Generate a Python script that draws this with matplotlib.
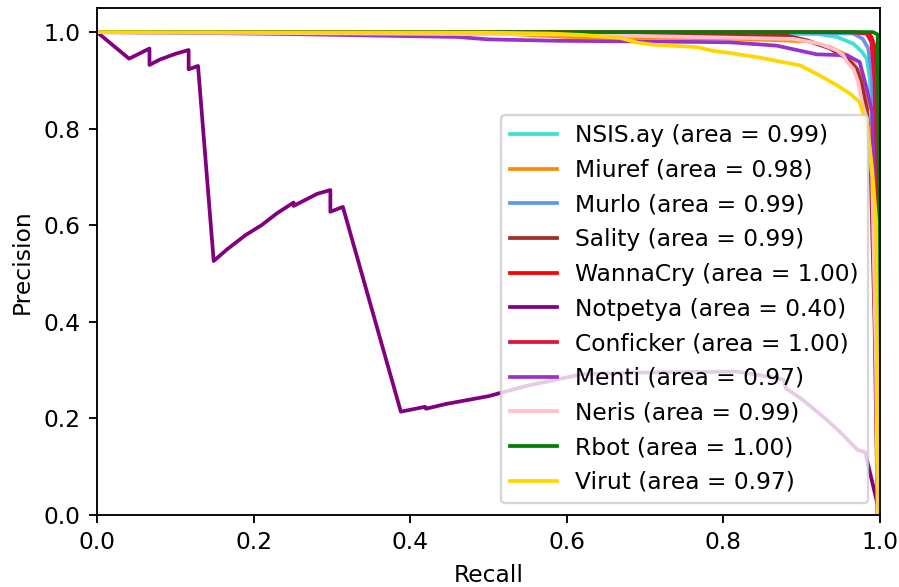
import matplotlib
matplotlib.use("Agg")
from matplotlib import pyplot as plt

names = ["NSIS.ay", "Miuref", "Murlo", "Sality", "WannaCry", "Notpetya",
         "Conficker", "Menti", "Neris", "Rbot", "Virut"]
areas = [0.99, 0.98, 0.99, 0.99, 1.00, 0.40, 1.00, 0.97, 0.99, 1.00, 0.97]
colors = ["turquoise", "darkorange", "cornflowerblue", "brown", "red", "purple",
          "crimson", "darkorchid", "pink", "green", "gold"]

# recall / precision points for each class
recall = {
    "NSIS.ay": [0, 0.5, 0.75, 0.92, 0.945, 0.966, 0.977, 0.983, 0.987, 0.990, 0.993, 0.996, 0.998],
    "Miuref": [0, 0.50, 0.55, 0.6, 0.8, 0.907, 0.936, 0.958, 0.974, 0.983, 0.989, 0.994, 0.997],
    "Murlo": [0, 0.9, 0.966, 0.978, 0.985, 0.989, 0.993, 0.996, 0.998],
    "Sality": [0, 0.6, 0.88, 0.907, 0.936, 0.958, 0.970, 0.977, 0.983, 0.988, 0.993, 0.997],
    "WannaCry": [0, 0.97, 0.985, 0.989, 0.994, 0.996, 0.998, 0.999],
    "Notpetya": [0, 0.041, 0.067, 0.067, 0.08, 0.10, 0.117, 0.117, 0.129, 0.149, 0.166,
                 0.19, 0.21, 0.23, 0.251, 0.251, 0.281, 0.298, 0.298, 0.314, 0.388,
                 0.419, 0.42, 0.446, 0.50, 0.55, 0.621, 0.70, 0.817, 0.860, 0.877,
                 0.880, 0.90, 0.93, 0.95, 0.971, 0.981, 1.0],
    "Conficker": [0, 0.96, 0.983, 0.989, 0.993, 0.996, 0.998],
    "Menti": [0, 0.1, 0.246, 0.35, 0.46, 0.5, 0.59, 0.677, 0.808, 0.868, 0.919, 0.958,
              0.974, 0.983, 0.990, 0.993, 0.995, 0.997],
    "Neris": [0, 0.6, 0.889, 0.923, 0.945, 0.953, 0.958, 0.966, 0.972, 0.977, 0.983,
              0.990, 0.995, 0.997],
    "Rbot": [0, 0.991, 0.997, 0.999, 1.0],
    "Virut": [0, 0.50, 0.58, 0.621, 0.668, 0.691, 0.710, 0.766, 0.787, 0.808, 0.847, 0.898,
              0.923, 0.945, 0.962, 0.974, 0.978, 0.983, 0.990, 0.995, 0.996, 0.998],
}
precision = {
    "NSIS.ay": [1.0, 0.999, 0.997, 0.996, 0.990, 0.976, 0.959, 0.945, 0.903, 0.80, 0.60, 0.2, 0.0],
    "Miuref": [1.0, 0.999, 0.994, 0.990, 0.987, 0.981, 0.969, 0.952, 0.917, 0.855, 0.749, 0.4, 0.0],
    "Murlo": [1.0, 0.999, 0.997, 0.986, 0.966, 0.917, 0.80, 0.5, 0.0],
    "Sality": [1.0, 0.998, 0.993, 0.983, 0.966, 0.945, 0.924, 0.890, 0.841, 0.72, 0.4, 0.0],
    "WannaCry": [1.0, 1.0, 0.998, 0.990, 0.966, 0.85, 0.4, 0.0],
    "Notpetya": [1.0, 0.945, 0.966, 0.932, 0.943, 0.955, 0.963, 0.923, 0.930, 0.526, 0.550,
                 0.58, 0.60, 0.625, 0.647, 0.640, 0.665, 0.673, 0.628, 0.638, 0.214,
                 0.224, 0.220, 0.230, 0.246, 0.268, 0.292, 0.295, 0.297, 0.286, 0.280,
                 0.262, 0.240, 0.200, 0.170, 0.135, 0.13, 0.0],
    "Conficker": [1.0, 1.0, 0.997, 0.979, 0.90, 0.6, 0.0],
    "Menti": [1.0, 0.999, 0.996, 0.993, 0.990, 0.985, 0.982, 0.981, 0.979, 0.972, 0.954,
              0.952, 0.938, 0.883, 0.834, 0.617, 0.3, 0.0],
    "Neris": [1.0, 0.995, 0.986, 0.976, 0.962, 0.952, 0.938, 0.924, 0.897, 0.855, 0.82,
              0.7, 0.3, 0.0],
    "Rbot": [1.0, 1.0, 0.995, 0.6, 0.0],
    "Virut": [1.0, 0.999, 0.997, 0.994, 0.988, 0.978, 0.974, 0.969, 0.961, 0.957, 0.947, 0.931,
              0.910, 0.890, 0.872, 0.855, 0.834, 0.818, 0.714, 0.611, 0.377, 0.0],
}

dpi = 168
fig = plt.figure(figsize=(900 / dpi, 587 / dpi), dpi=dpi)
ax = fig.add_axes([0.1078, 0.1227, 0.8700, 0.8637])

for name, area, color in zip(names, areas, colors):
    ax.plot(recall[name], precision[name], color=color, lw=1.6,
            label="%s (area = %0.2f)" % (name, area))

ax.set_xlim(0.0, 1.0)
ax.set_ylim(0.0, 1.05)
ax.set_xlabel("Recall")
ax.set_ylabel("Precision")
ax.legend(loc="lower right")

fig.savefig("out.png", dpi=dpi)
